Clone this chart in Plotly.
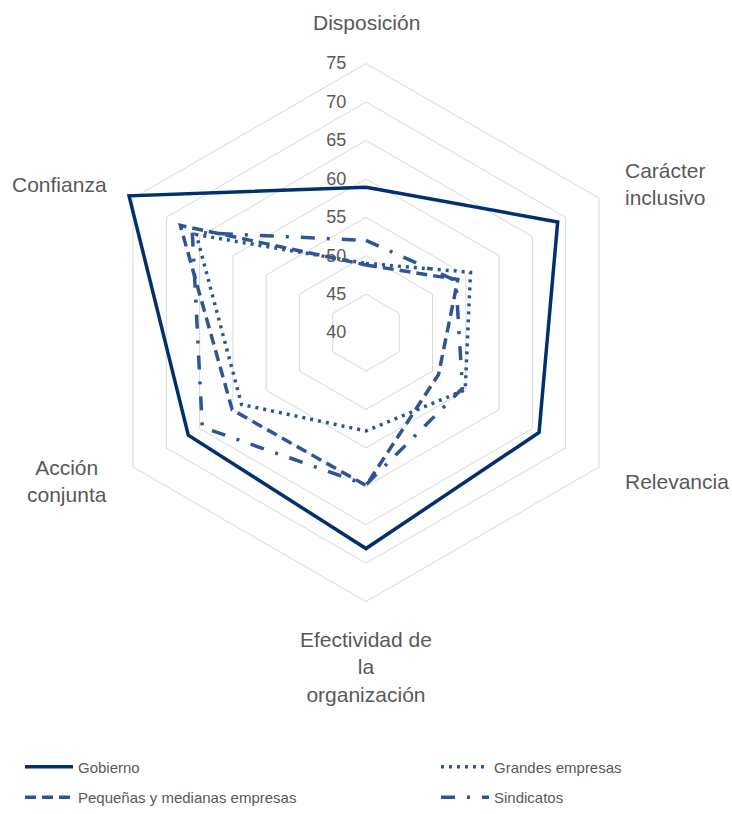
import math
import plotly.graph_objects as go

# Dimensions of the survey, clockwise from the top
categories = [
    "Disposición",
    "Carácter inclusivo",
    "Relevancia",
    "Efectividad de la organización",
    "Acción conjunta",
    "Confianza",
]
category_labels = [
    "Disposición",
    "Carácter<br>inclusivo",
    "Relevancia",
    "Efectividad de<br>la<br>organización",
    "Acción<br>conjunta",
    "Confianza",
]

gobierno = [58.9, 68.8, 66.0, 68.1, 66.7, 75.6]
grandes_empresas = [49.0, 55.7, 54.9, 52.8, 58.7, 65.5]
pymes = [48.8, 53.8, 50.9, 59.9, 60.1, 67.9]
sindicatos = [52.0, 53.5, 54.5, 59.8, 64.6, 66.1]

radial_ticks = [40, 45, 50, 55, 60, 65, 70, 75]
r_min, r_max = 40, 76

NAVY = "#00306E"
BLUE = "#2F5597"
GREY_TEXT = "#595959"
GRID = "#D9D9D9"
FONT = "Liberation Sans, Arial, sans-serif"


def closed(values):
    return values + values[:1]


theta = closed(categories)

# (name, values, colour, dash pattern, legend id, legend slot x, legend slot y)
series = [
    ("Gobierno", gobierno, NAVY, "solid", "legend", 20, 767),
    ("Grandes empresas", grandes_empresas, BLUE, "3px,5px", "legend2", 436, 767),
    ("Pequeñas y medianas empresas", pymes, BLUE, "11px,6px", "legend3", 20, 798),
    ("Sindicatos", sindicatos, BLUE, "14px,12px,3px,12px", "legend4", 436, 798),
]

W, H = 732, 814
cx, cy, R = 366, 333, 277  # polar centre and outer radius in pixels

fig = go.Figure()
legends = {}
for name, values, color, dash, legend, lx, ly in series:
    fig.add_trace(
        go.Scatterpolar(
            r=closed(values),
            theta=theta,
            mode="lines",
            name=name,
            line=dict(color=color, width=3.5, dash=dash),
            legend=legend,
        )
    )
    legends[legend] = dict(
        orientation="h",
        x=lx / W,
        xanchor="left",
        y=1 - ly / H,
        yanchor="middle",
        itemwidth=48,
        font=dict(family=FONT, size=15, color=GREY_TEXT),
        bgcolor="rgba(0,0,0,0)",
    )

# Category labels placed just outside the outermost ring, along each spoke
px_per_unit = R / (r_max - r_min)
ring_px = (radial_ticks[-1] - r_min) * px_per_unit
annotations = []
for i, label in enumerate(category_labels):
    ang = math.radians(90 - 60 * i)
    c, s = math.cos(ang), math.sin(ang)
    gap = 24 if s < -0.9 else 28
    x = cx + (ring_px + gap) * c
    y = cy - (ring_px + gap) * s
    if abs(c) < 0.1:
        xanchor = "center"
        yanchor = "bottom" if s > 0 else "top"
    else:
        xanchor = "left" if c > 0 else "right"
        yanchor = "middle"
    annotations.append(
        dict(
            text=label,
            x=x / W,
            y=1 - y / H,
            xref="paper",
            yref="paper",
            xanchor=xanchor,
            yanchor=yanchor,
            align="center",
            showarrow=False,
            font=dict(family=FONT, size=21, color=GREY_TEXT),
        )
    )

fig.update_layout(
    width=W,
    height=H,
    margin=dict(l=0, r=0, t=0, b=0),
    paper_bgcolor="white",
    plot_bgcolor="white",
    font=dict(family=FONT, color=GREY_TEXT),
    polar=dict(
        domain=dict(
            x=[(cx - R) / W, (cx + R) / W],
            y=[1 - (cy + R) / H, 1 - (cy - R) / H],
        ),
        gridshape="linear",
        bgcolor="white",
        radialaxis=dict(
            range=[r_min, r_max],
            tickvals=radial_ticks,
            angle=90,
            tickangle=90,
            side="counterclockwise",
            showline=False,
            ticks="outside",
            ticklen=13,
            tickcolor="rgba(0,0,0,0)",
            showgrid=True,
            gridcolor=GRID,
            gridwidth=1,
            tickfont=dict(family=FONT, size=18, color=GREY_TEXT),
        ),
        angularaxis=dict(
            direction="clockwise",
            rotation=90,
            categoryorder="array",
            categoryarray=categories,
            showgrid=False,
            showline=False,
            showticklabels=False,
            ticks="",
        ),
    ),
    annotations=annotations,
    showlegend=True,
    **legends,
)

fig.write_html("out.html")
